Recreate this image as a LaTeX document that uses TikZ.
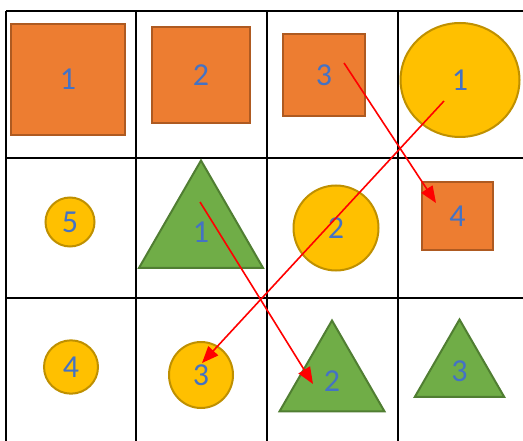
\documentclass[tikz,border=0pt]{standalone}
\usepackage{fontspec}
\setmainfont{Carlito}
\usetikzlibrary{arrows.meta, shapes.geometric}
\definecolor{boxfill}{HTML}{ED7D31}
\definecolor{boxline}{HTML}{AE5A21}
\definecolor{dotfill}{HTML}{FFC000}
\definecolor{dotline}{HTML}{BF9000}
\definecolor{trifill}{HTML}{70AD47}
\definecolor{triline}{HTML}{507E32}
\definecolor{numblue}{HTML}{4472C4}

\begin{document}
\begin{tikzpicture}[x=0.75pt, y=-0.75pt,
    shape base/.style={line width=1.5pt, inner sep=0pt, text=numblue, font=\fontsize{24}{27}\selectfont},
    sqbox/.style={shape base, rectangle, draw=boxline, fill=boxfill},
    dot/.style={shape base, ellipse, draw=dotline, fill=dotfill},
    tri/.style={shape base, regular polygon, regular polygon sides=3, draw=triline, fill=trifill},
    gridline/.style={line width=1.5pt},
    move/.style={red, line width=1.2pt, -{Triangle[length=12.5pt, width=10pt]}}]
        \useasboundingbox (0,0) rectangle (523,441);
        \foreach \x in {6, 136, 267, 398} {
            \draw[gridline] (\x, 11) -- (\x, 441);
        }
        \foreach \y in {11, 158, 298} {
            \draw[gridline] (6, \y) -- (523, \y);
        }

        \node[sqbox, minimum width=85.5pt, minimum height=83.25pt] (sq1) at (68, 79.5) {1};
        \node[sqbox, minimum width=73.5pt, minimum height=72pt]    (sq2) at (201, 75)  {2};
        \node[sqbox, minimum width=61.5pt, minimum height=61.5pt]  (sq3) at (324, 75)  {3};
        \node[dot, minimum width=89.25pt, minimum height=85.5pt]   (ci1) at (460, 80)  {1};

        \node[dot, minimum width=36.75pt, minimum height=36.75pt]  (ci5) at (70, 222)  {5};
        \node[tri, minimum size=107.25pt]                          (tr1) at (201, 232) {1};
        \node[dot, minimum width=63.75pt, minimum height=63.75pt]  (ci2) at (336, 228) {2};
        \node[sqbox, minimum width=53.25pt, minimum height=51pt]   (sq4) at (457.5, 216) {4};

        \node[dot, minimum width=40.5pt, minimum height=40pt]      (ci4) at (71, 367)  {4};
        \node[dot, minimum width=48pt, minimum height=49.5pt]      (ci3) at (201, 375) {3};
        \node[tri, minimum size=90.75pt]                           (tr2) at (332, 381) {2};
        \node[tri, minimum size=77.25pt]                           (tr3) at (459.5, 371) {3};

        \coordinate (from sq3) at (344, 63);
        \coordinate (to sq4)   at (436, 203);
        \coordinate (from ci1) at (444, 101);
        \coordinate (to ci3)   at (202, 363);
        \coordinate (from tr1) at (200, 202);
        \coordinate (to tr2)   at (313, 384);

        \draw[move] (from sq3) -- (to sq4);
        \draw[move] (from ci1) -- (to ci3);
        \draw[move] (from tr1) -- (to tr2);
    \end{tikzpicture}
\end{document}
